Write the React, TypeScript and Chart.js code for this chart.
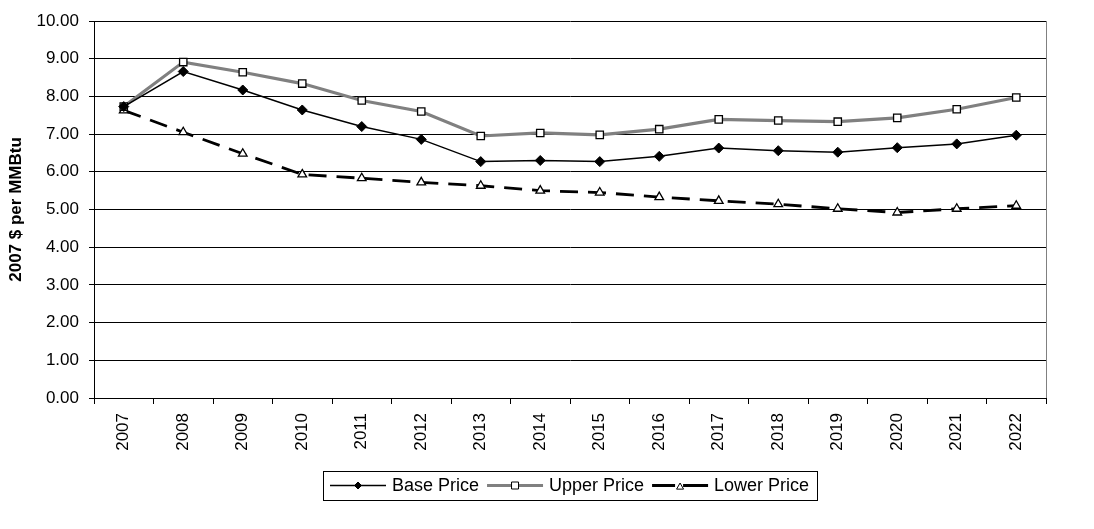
import React, { useEffect, useRef } from "react";
import { Chart, registerables } from "chart.js";

Chart.register(...registerables);

const years = ["2007", "2008", "2009", "2010", "2011", "2012", "2013", "2014", "2015", "2016", "2017", "2018", "2019", "2020", "2021", "2022"];
const basePrice = [7.73, 8.66, 8.17, 7.64, 7.2, 6.86, 6.27, 6.3, 6.27, 6.41, 6.63, 6.56, 6.52, 6.64, 6.74, 6.97];
const upperPrice = [7.73, 8.91, 8.64, 8.34, 7.89, 7.6, 6.95, 7.03, 6.98, 7.13, 7.39, 7.36, 7.33, 7.43, 7.66, 7.97];
const lowerPrice = [7.63, 7.05, 6.48, 5.93, 5.83, 5.72, 5.63, 5.5, 5.45, 5.33, 5.23, 5.14, 5.02, 4.92, 5.02, 5.1];
const seriesNames = ["Base Price", "Upper Price", "Lower Price"];
const yMin = 0;
const yMax = 10;
const yStep = 1;
const yTitle = "2007 $ per MMBtu";

const FONT = "'Liberation Sans', Arial, Helvetica, sans-serif";
const W = 1094;
const H = 529;

function drawMarker(ctx: CanvasRenderingContext2D, style: string, x: number, y: number, s: number, fill: string) {
  ctx.beginPath();
  if (style === "rectRot") {
    ctx.moveTo(x - s, y);
    ctx.lineTo(x, y - s);
    ctx.lineTo(x + s, y);
    ctx.lineTo(x, y + s);
  } else if (style === "rect") {
    ctx.rect(x - s, y - s, 2 * s, 2 * s);
  } else {
    ctx.moveTo(x, y - s);
    ctx.lineTo(x + s, y + s * 0.75);
    ctx.lineTo(x - s, y + s * 0.75);
  }
  ctx.closePath();
  ctx.fillStyle = fill;
  ctx.fill();
  ctx.strokeStyle = "#000";
  ctx.lineWidth = 1;
  ctx.stroke();
}

const legendPlugin = {
  id: "excelLegend",
  afterDraw(chart: any) {
    const ctx: CanvasRenderingContext2D = chart.ctx;
    const area = chart.chartArea;
    ctx.save();
    ctx.font = `18px ${FONT}`;
    const sampleW = 56;
    const gapAfterSample = 6;
    const gapAfterText = 8;
    const padL = 7;
    const padR = 8;
    const widths = chart.data.datasets.map((d: any) => ctx.measureText(d.label).width);
    let total = padL + padR;
    widths.forEach((w: number, i: number) => {
      total += sampleW + gapAfterSample + w + (i < widths.length - 1 ? gapAfterText : 0);
    });
    const boxTop = 471;
    const boxH = 29;
    const cx = (area.left + area.right) / 2;
    const boxLeft = Math.round(cx - total / 2);
    ctx.strokeStyle = "#000";
    ctx.lineWidth = 1;
    ctx.strokeRect(boxLeft + 0.5, boxTop + 0.5, Math.round(total), boxH);
    const midY = boxTop + boxH / 2;
    let x = boxLeft + padL;
    chart.data.datasets.forEach((d: any, i: number) => {
      const mx = x + sampleW / 2;
      ctx.save();
      ctx.strokeStyle = d.borderColor;
      ctx.lineWidth = d.borderWidth;
      if (d.borderDash) {
        ctx.beginPath();
        ctx.moveTo(x, midY);
        ctx.lineTo(mx - 5, midY);
        ctx.moveTo(mx + 3, midY);
        ctx.lineTo(x + sampleW, midY);
        ctx.stroke();
      } else {
        ctx.beginPath();
        ctx.moveTo(x, midY);
        ctx.lineTo(x + sampleW, midY);
        ctx.stroke();
      }
      const s = d.pointStyle === "rect" ? 3.5 : d.pointStyle === "rectRot" ? 3.5 : 3.5;
      drawMarker(ctx, d.pointStyle, mx, midY + (d.pointStyle === "triangle" ? 1 : 0), s, d.pointBackgroundColor);
      ctx.restore();
      x += sampleW + gapAfterSample;
      ctx.fillStyle = "#000";
      ctx.textBaseline = "middle";
      ctx.textAlign = "left";
      ctx.fillText(d.label, x, midY + 1);
      x += widths[i] + gapAfterText;
    });
    ctx.restore();
  },
};

const borderPlugin = {
  id: "plotBorder",
  afterDraw(chart: any) {
    const ctx: CanvasRenderingContext2D = chart.ctx;
    const a = chart.chartArea;
    ctx.save();
    ctx.strokeStyle = "#808080";
    ctx.lineWidth = 1;
    ctx.beginPath();
    ctx.moveTo(Math.round(a.right) + 0.5, a.top);
    ctx.lineTo(Math.round(a.right) + 0.5, a.bottom);
    ctx.stroke();
    ctx.restore();
  },
};

export default function App() {
  const ref = useRef<HTMLCanvasElement | null>(null);

  useEffect(() => {
    document.body.style.margin = "0";
    const canvas = ref.current;
    if (!canvas) return;
    const chart = new Chart(canvas, {
      type: "line",
      data: {
        labels: years,
        datasets: [
          {
            label: seriesNames[0],
            data: basePrice,
            borderColor: "#000000",
            borderWidth: 1.5,
            pointStyle: "rectRot",
            pointRadius: 5,
            pointBackgroundColor: "#000000",
            pointBorderColor: "#000000",
            pointBorderWidth: 1,
            tension: 0,
          },
          {
            label: seriesNames[1],
            data: upperPrice,
            borderColor: "#808080",
            borderWidth: 3.2,
            pointStyle: "rect",
            pointRadius: 5.2,
            pointBackgroundColor: "#ffffff",
            pointBorderColor: "#000000",
            pointBorderWidth: 1.3,
            tension: 0,
          },
          {
            label: seriesNames[2],
            data: lowerPrice,
            borderColor: "#000000",
            borderWidth: 2.8,
            borderDash: [18, 10],
            pointStyle: "triangle",
            pointRadius: 5,
            pointBackgroundColor: "#ffffff",
            pointBorderColor: "#000000",
            pointBorderWidth: 1.3,
            tension: 0,
          },
        ],
      },
      options: {
        responsive: false,
        animation: false,
        devicePixelRatio: 1,
        layout: { padding: { left: 0, top: 21, right: 48, bottom: 0 } },
        plugins: {
          legend: { display: false },
          tooltip: { enabled: false },
        },
        scales: {
          x: {
            type: "category",
            offset: true,
            grid: {
              offset: true,
              drawOnChartArea: false,
              drawTicks: true,
              tickLength: 6,
              color: "#000000",
            },
            border: { display: true, color: "#000000", width: 1 },
            ticks: {
              color: "#000000",
              font: { family: FONT, size: 17 },
              minRotation: 90,
              maxRotation: 90,
              padding: 9,
              autoSkip: false,
            },
            afterFit(scale: any) {
              scale.height = 131;
            },
          },
          y: {
            min: yMin,
            max: yMax,
            grid: {
              color: "#000000",
              lineWidth: 1,
              drawTicks: true,
              tickLength: 5,
            },
            border: { display: true, color: "#000000", width: 1 },
            ticks: {
              stepSize: yStep,
              color: "#000000",
              font: { family: FONT, size: 17 },
              padding: 10,
              callback: (v: any) => Number(v).toFixed(2),
            },
            title: {
              display: true,
              text: yTitle,
              color: "#000000",
              font: { family: FONT, size: 17, weight: "bold" },
              padding: { top: 6, bottom: 0 },
            },
            afterFit(scale: any) {
              scale.width = 94;
            },
          },
        },
      },
      plugins: [borderPlugin, legendPlugin],
    } as any);
    return () => chart.destroy();
  }, []);

  return (
    <div style={{ width: W, height: H, background: "#fff" }}>
      <canvas ref={ref} width={W} height={H} style={{ display: "block" }} />
    </div>
  );
}
